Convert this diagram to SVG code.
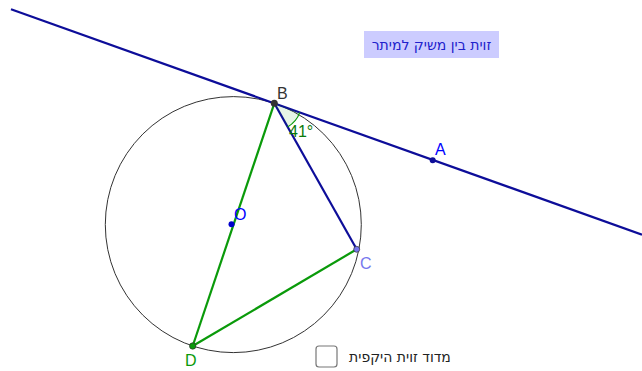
<svg xmlns="http://www.w3.org/2000/svg" width="642" height="371" viewBox="0 0 642 371">
<style>
.lbl{font-family:"Liberation Sans","DejaVu Sans",sans-serif;font-size:16px}
.heb{font-family:"DejaVu Sans","Liberation Sans",sans-serif;font-size:14px}
.blue{stroke:#0d0d99;stroke-width:2.2;fill:none}
.green{stroke:#0a9a0a;stroke-width:2.2;fill:none}
</style>
<rect width="642" height="371" fill="#ffffff"/>
<g id="circle"><circle cx="233.3" cy="224.6" r="128" fill="none" stroke="#333" stroke-width="1"/></g>
<g id="connectors">
<line class="blue" x1="11" y1="9.3" x2="642" y2="234.6"/>
<line class="blue" x1="274.3" y1="103.3" x2="356.7" y2="249.3"/>
<line class="green" x1="274.3" y1="103.3" x2="192.7" y2="346"/>
<line class="green" x1="356.7" y1="249.3" x2="192.7" y2="346"/>
</g>
<g id="angle">
<path d="M274.3,103.3 L299.8,112.4 A27,27 0 0 1 287.6,126.9 Z" fill="#0a9a0a" fill-opacity="0.1" stroke="none"/>
<path d="M299.8,112.4 A27,27 0 0 1 287.6,126.9" fill="none" stroke="#0a9a0a" stroke-width="1.2"/>
<text class="lbl" x="289" y="137" font-size="14" fill="#0a7a0a">41°</text>
</g>
<g id="B"><circle cx="274.3" cy="103.3" r="3.5" fill="#333"/><text class="lbl" x="277" y="99" fill="#333">B</text></g>
<g id="A"><circle cx="432.7" cy="160.3" r="3" fill="#0d0d99"/><text class="lbl" x="435" y="155" fill="#0000ff">A</text></g>
<g id="O"><circle cx="231.5" cy="224.2" r="3" fill="#0000cc"/><text class="lbl" x="234" y="220" fill="#0000ff">O</text></g>
<g id="C"><circle cx="356.7" cy="249.3" r="3" fill="#7777ee" stroke="#333" stroke-width="0.7"/><text class="lbl" x="360" y="269" fill="#7777ee">C</text></g>
<g id="D"><circle cx="192.7" cy="346" r="3.2" fill="#0a9a0a" stroke="#333" stroke-width="0.7"/><text class="lbl" x="185" y="366" fill="#0a9a0a">D</text></g>
<g id="title"><rect x="364" y="31" width="135" height="27" fill="#ccccff"/><text class="heb" x="431.5" y="50" text-anchor="middle" font-size="15" fill="#2020cc">זוית בין משיק למיתר</text></g>
<g id="checkbox"><rect x="316" y="346" width="21" height="21" rx="3" fill="#fff" stroke="#777" stroke-width="1.2"/><text class="heb" x="400" y="362" text-anchor="middle" fill="#222">מדוד זוית היקפית</text></g>
</svg>
